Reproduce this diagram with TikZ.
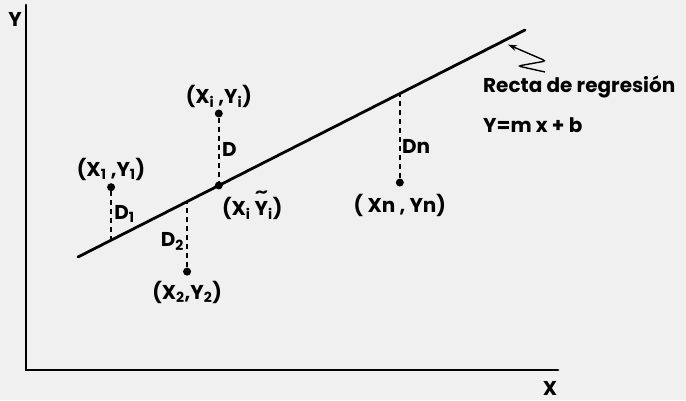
\documentclass[tikz,border=0pt]{standalone}
\usepackage{fontspec}
\usepackage{graphicx}
\setmainfont{Poppins}
\usetikzlibrary{arrows.meta, positioning, calc}
\newcommand{\tildeY}{\leavevmode\rlap{\makebox[\fontcharwd\font`Y][c]{\raisebox{0.42em}{\scalebox{1.5}[1.1]{\char"02DC}}}}Y}

\begin{document}
\begin{tikzpicture}[x=1pt, y=1pt, node distance=2pt, font=\fontsize{20}{24}\selectfont\bfseries]
  \tikzstyle{axis} = [line width=2.8pt, line cap=round, line join=miter]
  \tikzstyle{recta} = [line width=2.8pt, line cap=round]
  \tikzstyle{dist} = [dash pattern=on 5pt off 4pt, line width=1.6pt]
  \tikzstyle{dot} = [circle, fill=black, inner sep=0pt, minimum size=8pt]
  \tikzstyle{lbl} = [inner sep=1pt]
  \fill[black!6] (0,0) rectangle (686,400);
  \useasboundingbox (0,0) rectangle (686,400);
  \coordinate (O) at (26,30);
  \coordinate (Ytop) at (26,395);
  \coordinate (Xend) at (558,30);
  \draw[axis] (Ytop) -- (O) -- (Xend);
  \node[lbl, anchor=base] (Ylab) at (15,373) {Y};
  \node[lbl, anchor=base] (Xlab) at (550,5) {X};
  \coordinate (A) at (78,143);
  \coordinate (B) at (525,370);
  \draw[recta] (A) -- (B);
  \coordinate (F1) at ($(A)!0.074!(B)$);
  \coordinate (F2) at ($(A)!0.244!(B)$);
  \coordinate (Fn) at ($(A)!0.720!(B)$);
  \node[dot] (Fi) at ($(A)!0.315!(B)$) {};
  \node[dot] (P1) at ($(F1)+(0,53)$) {};
  \node[dot] (Pi) at ($(Fi)+(0,72)$) {};
  \node[dot] (P2) at ($(F2)+(0,-70)$) {};
  \node[dot] (Pn) at ($(Fn)+(0,-89)$) {};
  \draw[dist] (P1) -- (F1);
  \draw[dist] (Pi) -- (Fi);
  \draw[dist] (P2) -- (F2);
  \draw[dist] (Pn) -- (Fn);
  \node[lbl, above=1pt of P1] (L1) {(X\textsubscript{1} ,Y\textsubscript{1})};
  \node[lbl, above=0pt of Pi] (Li) {(X\textsubscript{i} ,Y\textsubscript{i})};
  \node[lbl, anchor=north west] (Lt) at ($(Fi)+(2,-4)$) {(X\textsubscript{i} \tildeY\textsubscript{i})};
  \node[lbl, below=4pt of P2] (L2) {(X\textsubscript{2},Y\textsubscript{2})};
  \node[lbl, below=6pt of Pn] (Ln) {( Xn , Yn)};
  \node[lbl, anchor=west] (D1) at ($(F1)!0.5!(P1)+(2,0)$) {D\textsubscript{1}};
  \node[lbl, anchor=west] (Di) at ($(Fi)!0.5!(Pi)+(2,0)$) {D};
  \node[lbl, anchor=east] (D2) at ($(F2)!0.57!(P2)+(-2,0)$) {D\textsubscript{2}};
  \node[lbl, anchor=west] (Dn) at ($(Fn)!0.6!(Pn)+(1,0)$) {Dn};
  \node[lbl, anchor=west] (recta) at (482,313) {Recta de regresión};
  \node[lbl, anchor=west] (ecuacion) at (482,275) {Y=m x + b};
  \coordinate (tail) at (545,328);
  \coordinate (T) at ($(A)!0.962!(B)+(0,-6)$);
  \draw[line width=1.4pt, rounded corners=3pt, -{Stealth[length=9pt, width=6pt]}] (tail) -- (518,334) -- (546,339) -- (T);
\end{tikzpicture}
\end{document}
